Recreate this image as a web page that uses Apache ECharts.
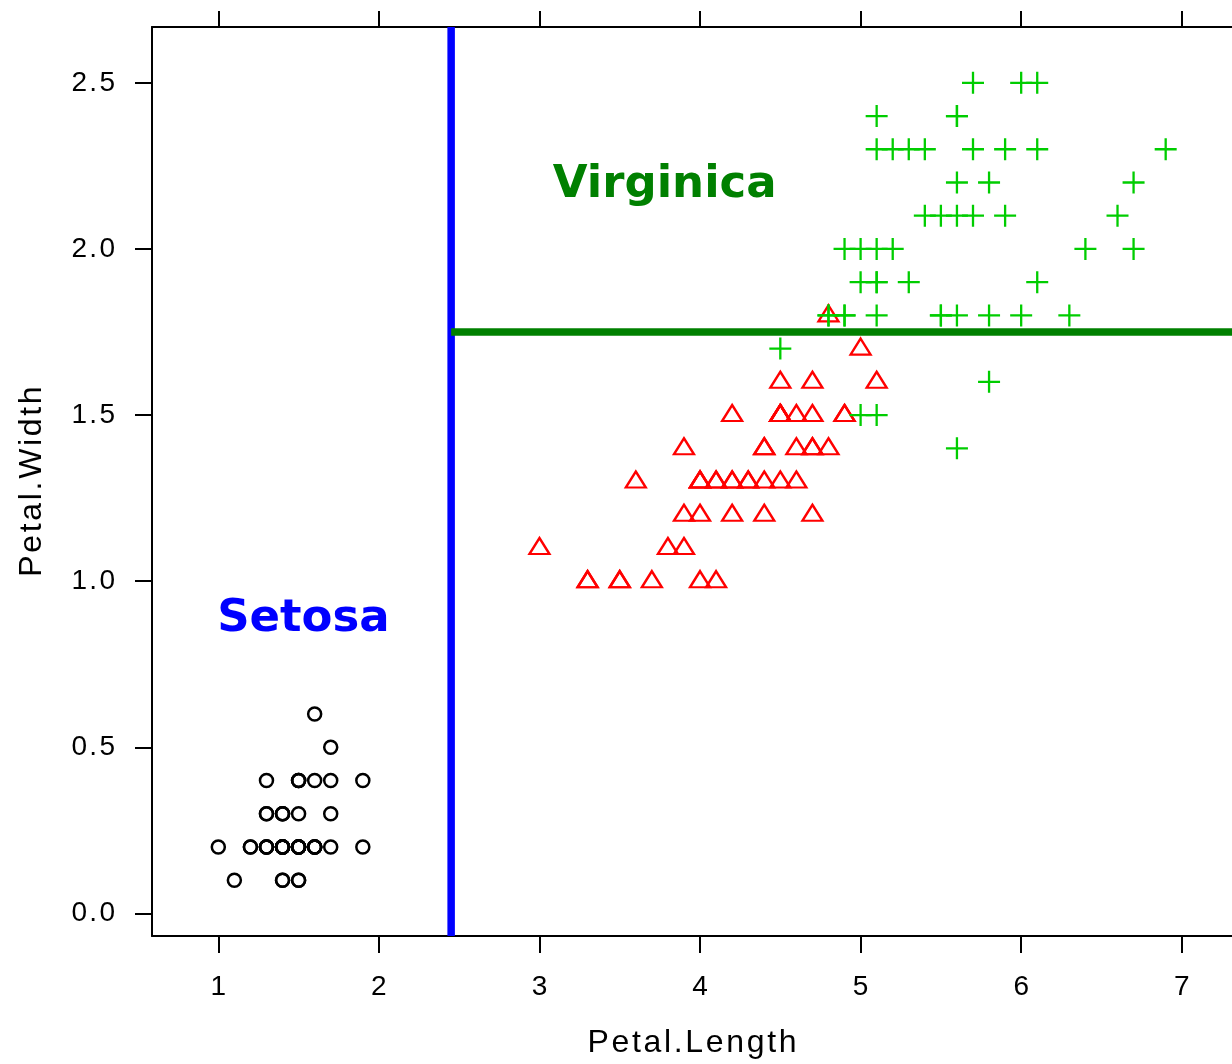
<!DOCTYPE html>
<html>
<head>
<meta charset="utf-8">
<script src="https://cdn.jsdelivr.net/npm/echarts@6/dist/echarts.min.js"></script>
<style>
  html, body { margin: 0; padding: 0; background: #fff; }
  #chart { width: 1232px; height: 1064px; }
</style>
</head>
<body>
<div id="chart"></div>
<script>
// iris petal measurements, by species
var setosaLength = [1.4,1.4,1.3,1.5,1.4,1.7,1.4,1.5,1.4,1.5,1.5,1.6,1.4,1.1,1.2,1.5,1.3,1.4,1.7,1.5,1.7,1.5,1.0,1.7,1.9,1.6,1.6,1.5,1.4,1.6,1.6,1.5,1.5,1.4,1.5,1.2,1.3,1.4,1.3,1.5,1.3,1.3,1.3,1.6,1.9,1.4,1.6,1.4,1.5,1.4];
var setosaWidth = [0.2,0.2,0.2,0.2,0.2,0.4,0.3,0.2,0.2,0.1,0.2,0.2,0.1,0.1,0.2,0.4,0.4,0.3,0.3,0.3,0.2,0.4,0.2,0.5,0.2,0.2,0.4,0.2,0.2,0.2,0.2,0.4,0.1,0.2,0.2,0.2,0.2,0.1,0.2,0.2,0.3,0.3,0.2,0.6,0.4,0.3,0.2,0.2,0.2,0.2];
var versicolorLength = [4.7,4.5,4.9,4.0,4.6,4.5,4.7,3.3,4.6,3.9,3.5,4.2,4.0,4.7,3.6,4.4,4.5,4.1,4.5,3.9,4.8,4.0,4.9,4.7,4.3,4.4,4.8,5.0,4.5,3.5,3.8,3.7,3.9,5.1,4.5,4.5,4.7,4.4,4.1,4.0,4.4,4.6,4.0,3.3,4.2,4.2,4.2,4.3,3.0,4.1];
var versicolorWidth = [1.4,1.5,1.5,1.3,1.5,1.3,1.6,1.0,1.3,1.4,1.0,1.5,1.0,1.4,1.3,1.4,1.5,1.0,1.5,1.1,1.8,1.3,1.5,1.2,1.3,1.4,1.4,1.7,1.5,1.0,1.1,1.0,1.2,1.6,1.5,1.6,1.5,1.3,1.3,1.3,1.2,1.4,1.2,1.0,1.3,1.2,1.3,1.3,1.1,1.3];
var virginicaLength = [6.0,5.1,5.9,5.6,5.8,6.6,4.5,6.3,5.8,6.1,5.1,5.3,5.5,5.0,5.1,5.3,5.5,6.7,6.9,5.0,5.7,4.9,6.7,4.9,5.7,6.0,4.8,4.9,5.6,5.8,6.1,6.4,5.6,5.1,5.6,6.1,5.6,5.5,4.8,5.4,5.6,5.1,5.1,5.9,5.7,5.2,5.0,5.2,5.4,5.1];
var virginicaWidth = [2.5,1.9,2.1,1.8,2.2,2.1,1.7,1.8,1.8,2.5,2.0,1.9,2.1,2.0,2.4,2.3,1.8,2.2,2.3,1.5,2.3,2.0,2.0,1.8,2.1,1.8,1.8,1.8,2.1,1.6,1.9,2.0,2.2,1.5,1.4,2.3,2.4,1.8,1.8,2.1,2.4,2.3,1.9,2.3,2.5,2.3,1.9,2.0,2.3,1.8];

// tree split values
var splitLength = 2.45;
var splitWidth = 1.75;

// axis limits and ticks
var xLimits = [0.587, 7.313];
var yLimits = [-0.068, 2.668];
var xTicks = [1, 2, 3, 4, 5, 6, 7];
var yTicks = [0, 0.5, 1.0, 1.5, 2.0, 2.5];

// annotations
var noteLabels = ['Virginica', 'Setosa'];
var notePos = [[3.78, 2.19], [1.53, 0.885]];
var noteColors = ['#008000', '#0000ff'];

function zip(a, b) {
  return a.map(function(v, i) { return [v, b[i]]; });
}

function spaced(s) {
  return String(s).split('').join('\u200A');
}

var axisFont = 'Liberation Sans, Arial, sans-serif';
var ink = '#000';

var chart = echarts.init(document.getElementById('chart'), null, { renderer: 'canvas' });

chart.setOption({
  animation: false,
  backgroundColor: '#fff',
  grid: { left: 152, right: -1, top: 27, bottom: 126.5, containLabel: false },
  xAxis: [{
    type: 'value',
    position: 'bottom',
    min: xLimits[0],
    max: xLimits[1],
    name: spaced('Petal.Length'),
    nameLocation: 'middle',
    nameGap: 91,
    nameTextStyle: { color: ink, fontFamily: axisFont, fontSize: 32 },
    axisLine: { show: true, onZero: false, lineStyle: { color: ink, width: 2 } },
    axisTick: { show: true, customValues: xTicks, length: 17, lineStyle: { color: ink, width: 2 } },
    axisLabel: {
      customValues: xTicks, margin: 37, color: ink, fontFamily: axisFont, fontSize: 28,
      formatter: function(v) { return spaced(v); }
    },
    splitLine: { show: false }
  }, {
    type: 'value',
    position: 'top',
    min: xLimits[0],
    max: xLimits[1],
    axisLine: { show: true, onZero: false, lineStyle: { color: ink, width: 2 } },
    axisTick: { show: true, customValues: xTicks, length: 16, lineStyle: { color: ink, width: 2 } },
    axisLabel: { show: false },
    splitLine: { show: false }
  }],
  yAxis: {
    type: 'value',
    min: yLimits[0],
    max: yLimits[1],
    name: spaced('Petal.Width'),
    nameLocation: 'middle',
    nameGap: 104,
    nameRotate: 90,
    nameTextStyle: { color: ink, fontFamily: axisFont, fontSize: 32 },
    axisLine: { show: true, onZero: false, lineStyle: { color: ink, width: 2 } },
    axisTick: { show: true, customValues: yTicks, length: 17, lineStyle: { color: ink, width: 2 } },
    axisLabel: {
      customValues: yTicks, margin: 37, color: ink, fontFamily: axisFont, fontSize: 28,
      formatter: function(v) { return spaced(v.toFixed(1)); }
    },
    splitLine: { show: false }
  },
  series: [{
    name: 'setosa',
    type: 'scatter',
    data: zip(setosaLength, setosaWidth),
    symbol: 'circle',
    symbolSize: 13,
    itemStyle: { color: 'transparent', borderColor: '#000', borderWidth: 2.5, opacity: 1 }
  }, {
    name: 'versicolor',
    type: 'scatter',
    data: zip(versicolorLength, versicolorWidth),
    symbol: 'triangle',
    symbolSize: [20, 16],
    symbolOffset: [0, -2],
    itemStyle: { color: 'transparent', borderColor: '#ff0000', borderWidth: 2.3, opacity: 1 }
  }, {
    name: 'virginica',
    type: 'scatter',
    data: zip(virginicaLength, virginicaWidth),
    symbol: 'path://M0,10L20,10M10,0L10,20',
    symbolSize: 22,
    itemStyle: { color: 'transparent', borderColor: '#00cd00', borderWidth: 2.3, opacity: 1 }
  }, {
    name: 'split1',
    type: 'line',
    data: [[splitLength, yLimits[0]], [splitLength, yLimits[1]]],
    symbol: 'none',
    lineStyle: { color: '#0000ff', width: 7.5 },
    z: 3
  }, {
    name: 'split2',
    type: 'line',
    data: [[splitLength, splitWidth], [xLimits[1], splitWidth]],
    symbol: 'none',
    lineStyle: { color: '#008000', width: 7.5 },
    z: 3
  }, {
    name: 'notes',
    type: 'scatter',
    symbolSize: 0,
    itemStyle: { opacity: 1 },
    data: noteLabels.map(function(t, i) {
      return {
        value: notePos[i],
        name: t,
        label: { color: noteColors[i] }
      };
    }),
    label: {
      show: true,
      position: 'inside',
      formatter: function(p) { return p.name; },
      fontFamily: 'DejaVu Sans, sans-serif',
      fontWeight: 'bold',
      fontSize: 45
    },
    z: 4
  }]
});
</script>
</body>
</html>
